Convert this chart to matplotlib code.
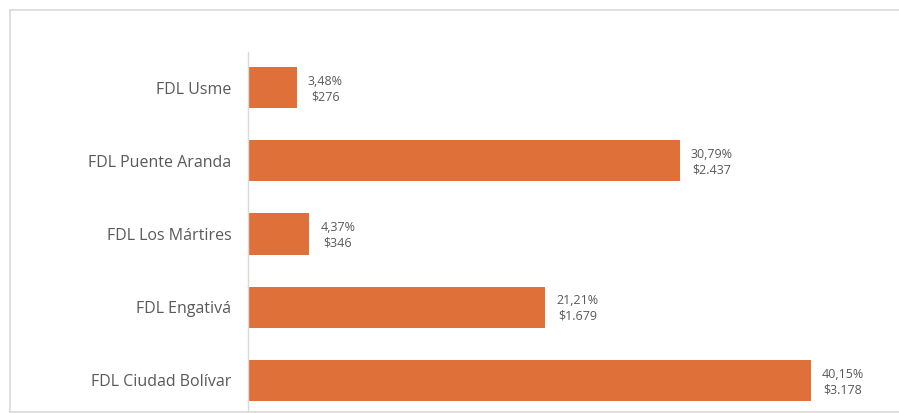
import matplotlib
matplotlib.use("Agg")
import matplotlib.pyplot as plt
from matplotlib.lines import Line2D

categories = ["FDL Ciudad Bolívar", "FDL Engativá", "FDL Los Mártires", "FDL Puente Aranda", "FDL Usme"]
values = [3178, 1679, 346, 2437, 276]
pct_labels = ["40,15%", "21,21%", "4,37%", "30,79%", "3,48%"]
value_labels = ["$3.178", "$1.679", "$346", "$2.437", "$276"]

W, H = 899, 413
fig = plt.figure(figsize=(W / 100, H / 100), dpi=100)
fig.patch.set_facecolor("white")

ax_left, ax_right = 248, 880
ax_top, ax_bottom = 52, 416
ax = fig.add_axes([ax_left / W, 1 - ax_bottom / H, (ax_right - ax_left) / W, (ax_bottom - ax_top) / H])

bar_color = "#E0703A"
text_color = "#595959"
font = "Open Sans"

ypos = list(range(len(categories)))
ax.barh(ypos, values, height=0.56, color=bar_color, zorder=2)
ax.set_ylim(-0.485, len(categories) - 1 + 0.485)
px_per_unit = 563 / 3178
ax.set_xlim(0, (ax_right - ax_left) / px_per_unit)

ax.set_yticks(ypos)
ax.set_yticklabels(categories, fontsize=11.5, color=text_color, family=font)
ax.tick_params(axis="y", length=0, pad=12)
ax.set_xticks([])
for s in ["top", "right", "bottom"]:
    ax.spines[s].set_visible(False)
ax.spines["left"].set_color("#D9D9D9")
ax.spines["left"].set_linewidth(1.0)

off = 11 / px_per_unit
for y, v, p, d in zip(ypos, values, pct_labels, value_labels):
    ax.text(v + off, y - 0.02, f"{p}\n{d}", ha="left", va="center", multialignment="center",
            fontsize=9, color=text_color, family=font, linespacing=1.25)

# outer chart frame
fc = "#D9D9D9"
fig.add_artist(Line2D([9.5 / W, 1.0], [1 - 9.5 / H, 1 - 9.5 / H], color=fc, lw=1.2, transform=fig.transFigure))
fig.add_artist(Line2D([9.5 / W, 9.5 / W], [1 - 9.5 / H, 1 - 411.5 / H], color=fc, lw=1.2, transform=fig.transFigure))
fig.add_artist(Line2D([9.5 / W, 1.0], [1 - 411.5 / H, 1 - 411.5 / H], color=fc, lw=1.2, transform=fig.transFigure))

fig.savefig("out.png", dpi=100)
